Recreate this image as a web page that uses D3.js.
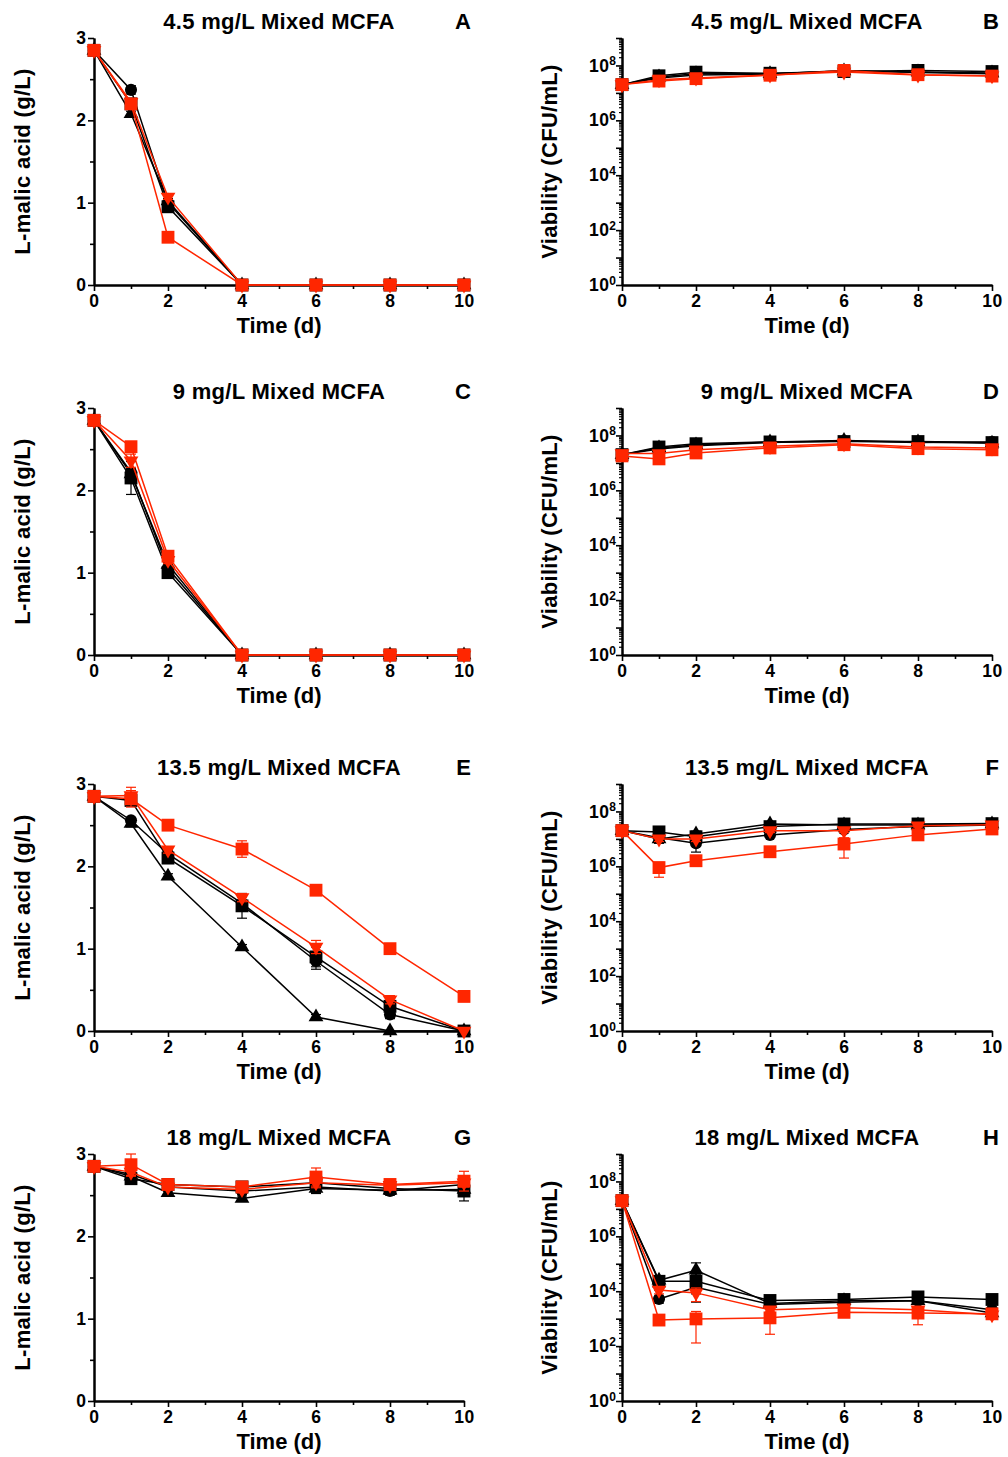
<!DOCTYPE html>
<html>
<head>
<meta charset="utf-8">
<script src="https://cdn.jsdelivr.net/npm/d3@7"></script>
<style>
  body { margin: 0; background: #fff; }
  text { font-family: "Liberation Sans", Arial, Helvetica, sans-serif; font-weight: bold; fill: #000; }
</style>
</head>
<body>
<svg id="chart" width="1008" height="1457"></svg>
<script>
// ---- data -------------------------------------------------------------
const days = [0, 1, 2, 4, 6, 8, 10];
const dayTicks = [0, 2, 4, 6, 8, 10];
const dayMinorTicks = [1, 3, 5, 7, 9];
const malicTicks = [0, 1, 2, 3];
const malicMinorTicks = [0.5, 1.5, 2.5];
const logDecades = [1e0, 1e1, 1e2, 1e3, 1e4, 1e5, 1e6, 1e7, 1e8, 1e9];

const panelTitles = ["4.5 mg/L Mixed MCFA", "9 mg/L Mixed MCFA", "13.5 mg/L Mixed MCFA", "18 mg/L Mixed MCFA"];
const malicLetters = ["A", "C", "E", "G"];
const viabLetters = ["B", "D", "F", "H"];
const xTitle = "Time (d)";
const malicTitle = "L-malic acid (g/L)";
const viabTitle = "Viability (CFU/mL)";

// series order: black circle, black triangle, black square, red inverted triangle, red square
// L-malic acid (g/L)
const malic45 = [
  [2.85, 2.37, 1.00, 0, 0, 0, 0],
  [2.85, 2.08, 1.02, 0, 0, 0, 0],
  [2.85, 2.20, 0.95, 0, 0, 0, 0],
  [2.85, 2.22, 1.07, 0, 0, 0, 0],
  [2.85, 2.20, 0.58, 0, 0, 0, 0]
];
const malic45Err = [
  [0, 0.05, 0.04, 0, 0, 0, 0],
  [0, 0.03, 0.03, 0, 0, 0, 0],
  [0, 0.03, 0.04, 0, 0, 0, 0],
  [0, 0.03, 0.03, 0, 0, 0, 0],
  [0, 0.03, 0.02, 0, 0, 0, 0]
];
const malic9 = [
  [2.85, 2.22, 1.05, 0, 0, 0, 0],
  [2.85, 2.20, 1.10, 0, 0, 0, 0],
  [2.85, 2.15, 1.00, 0, 0, 0, 0],
  [2.85, 2.36, 1.15, 0, 0, 0, 0],
  [2.85, 2.53, 1.20, 0, 0, 0, 0]
];
const malic9Err = [
  [0, 0.05, 0.04, 0, 0, 0, 0],
  [0, 0.05, 0.04, 0, 0, 0, 0],
  [0, 0.20, 0.05, 0, 0, 0, 0],
  [0, 0.08, 0.04, 0, 0, 0, 0],
  [0, 0.03, 0.03, 0, 0, 0, 0]
];
const malic135 = [
  [2.85, 2.56, 2.15, 1.55, 0.85, 0.20, 0],
  [2.85, 2.52, 1.88, 1.02, 0.17, 0.00, 0],
  [2.85, 2.80, 2.10, 1.52, 0.90, 0.30, 0],
  [2.85, 2.86, 2.20, 1.62, 1.02, 0.38, 0],
  [2.85, 2.82, 2.50, 2.21, 1.71, 1.00, 0.42]
];
const malic135Err = [
  [0, 0.03, 0.05, 0.08, 0.10, 0.05, 0],
  [0, 0.04, 0.03, 0.03, 0.03, 0, 0],
  [0, 0.05, 0.05, 0.15, 0.12, 0.06, 0],
  [0, 0.10, 0.04, 0.05, 0.08, 0.05, 0],
  [0, 0.10, 0.03, 0.10, 0.04, 0.03, 0.03]
];
const malic18 = [
  [2.85, 2.75, 2.60, 2.55, 2.60, 2.55, 2.63],
  [2.85, 2.73, 2.53, 2.46, 2.58, 2.56, 2.57],
  [2.85, 2.70, 2.63, 2.60, 2.65, 2.58, 2.55],
  [2.85, 2.78, 2.60, 2.57, 2.65, 2.62, 2.65],
  [2.85, 2.87, 2.63, 2.60, 2.72, 2.63, 2.67]
];
const malic18Err = [
  [0, 0.04, 0.05, 0.04, 0.07, 0.05, 0.05],
  [0, 0.03, 0.03, 0.03, 0.06, 0.04, 0.04],
  [0, 0.05, 0.06, 0.06, 0.05, 0.05, 0.12],
  [0, 0.05, 0.03, 0.04, 0.06, 0.03, 0.05],
  [0, 0.13, 0.06, 0.04, 0.11, 0.04, 0.12]
];

// Viability (CFU/mL)
const viab45 = [
  [2.0e7, 3.5e7, 4.5e7, 4.8e7, 6.5e7, 5.5e7, 5.0e7],
  [2.0e7, 3.8e7, 5.0e7, 5.0e7, 6.3e7, 5.8e7, 5.3e7],
  [2.0e7, 4.2e7, 5.7e7, 5.2e7, 6.0e7, 6.6e7, 6.0e7],
  [2.0e7, 3.0e7, 3.5e7, 4.5e7, 5.8e7, 4.5e7, 4.2e7],
  [2.0e7, 2.7e7, 3.3e7, 4.4e7, 6.6e7, 4.6e7, 4.1e7]
];
const viab45Err = [
  [0, 4e6, 5e6, 5e6, 6e6, 5e6, 5e6],
  [0, 4e6, 5e6, 5e6, 6e6, 5e6, 5e6],
  [0, 4e6, 5e6, 5e6, 6e6, 5e6, 5e6],
  [0, 3e6, 4e6, 4e6, 6e6, 4e6, 4e6],
  [0, 3e6, 4e6, 4e6, 6e6, 4e6, 4e6]
];
const viab9 = [
  [2.0e7, 3.2e7, 4.2e7, 5.5e7, 6.3e7, 5.5e7, 5.8e7],
  [2.0e7, 3.5e7, 4.5e7, 5.8e7, 6.5e7, 5.8e7, 5.2e7],
  [2.0e7, 3.8e7, 5.0e7, 5.8e7, 6.0e7, 6.0e7, 5.5e7],
  [2.2e7, 2.2e7, 3.0e7, 4.0e7, 5.0e7, 3.8e7, 3.5e7],
  [1.8e7, 1.4e7, 2.3e7, 3.5e7, 4.6e7, 3.3e7, 3.0e7]
];
const viab9Err = [
  [0, 4e6, 5e6, 5e6, 6e6, 5e6, 5e6],
  [0, 4e6, 5e6, 5e6, 6e6, 5e6, 5e6],
  [0, 4e6, 5e6, 5e6, 6e6, 5e6, 5e6],
  [3e6, 3e6, 4e6, 4e6, 5e6, 4e6, 4e6],
  [3e6, 2e6, 3e6, 4e6, 5e6, 4e6, 4e6]
];
const viab135 = [
  [2.0e7, 1.1e7, 7.0e6, 1.4e7, 2.2e7, 2.8e7, 3.2e7],
  [2.0e7, 1.0e7, 1.5e7, 3.5e7, 3.2e7, 3.2e7, 3.5e7],
  [2.0e7, 1.8e7, 1.2e7, 2.8e7, 3.5e7, 3.5e7, 3.6e7],
  [2.0e7, 1.0e7, 1.0e7, 2.0e7, 2.0e7, 3.0e7, 3.3e7],
  [2.0e7, 9.0e5, 1.6e6, 3.4e6, 6.5e6, 1.4e7, 2.3e7]
];
const viab135Err = [
  [0, 4.0e6, 3.7e6, 2e6, 5e6, 3e6, 3e6],
  [0, 3.0e6, 4.0e6, 5e6, 3e6, 2e6, 2e6],
  [0, 3.0e6, 2.0e6, 3e6, 3e6, 3e6, 3e6],
  [0, 2.0e6, 2.0e6, 3e6, 3e6, 3e6, 5e6],
  [0, 5.0e5, 3.0e5, 6e5, 4.5e6, 2e6, 3e6]
];
const viab18 = [
  [2.0e7, 5.2e3, 1.4e4, 3.3e3, 4.0e3, 4.5e3, 2.1e3],
  [2.0e7, 2.5e4, 5.8e4, 3.6e3, 4.5e3, 4.5e3, 1.6e3],
  [2.0e7, 2.3e4, 2.3e4, 4.6e3, 5.0e3, 6.2e3, 5.0e3],
  [2.0e7, 1.1e4, 8.7e3, 2.1e3, 2.5e3, 2.1e3, 1.4e3],
  [2.0e7, 8.9e2, 9.8e2, 1.07e3, 1.7e3, 1.6e3, 1.5e3]
];
const viab18Err = [
  [0, 1.5e3, 3.0e3, 5e2, 4e2, 5e2, 3e2],
  [0, 8.0e3, 5.0e4, 4e2, 5e2, 8e2, 3e2],
  [0, 1.2e4, 1.9e4, 8e2, 6e2, 1e3, 6e2],
  [0, 3.0e3, 4.5e3, 5e2, 6e2, 5e2, 2e2],
  [0, 1.0e2, 8.5e2, 8e2, 5e2, 1e3, 3e2]
];

const malicSets = [malic45, malic9, malic135, malic18];
const malicErrSets = [malic45Err, malic9Err, malic135Err, malic18Err];
const viabSets = [viab45, viab9, viab135, viab18];
const viabErrSets = [viab45Err, viab9Err, viab135Err, viab18Err];

// ---- styling ----------------------------------------------------------
const RED = "#ff2600";
const seriesColor = ["#000", "#000", "#000", RED, RED];
const seriesShape = ["circle", "triangle", "square", "triangleDown", "square"];

const layout = { colX: [94, 622], rowY: [38, 408, 784, 1154], w: 370, h: 247 };

const svg = d3.select("#chart");

function symbolPath(shape) {
  if (shape === "circle") return d3.symbol().type(d3.symbolCircle).size(115)();
  if (shape === "square") return d3.symbol().type(d3.symbolSquare).size(165)();
  return d3.symbol().type(d3.symbolTriangle).size(95)();
}

function styleAxis(g, fontSize) {
  g.select(".domain").attr("stroke", "#000").attr("stroke-width", 2);
  g.selectAll(".tick line").attr("stroke", "#000").attr("stroke-width", 1.6);
  g.selectAll(".tick text")
    .attr("font-size", fontSize)
    .attr("font-family", "'Liberation Sans', Arial, sans-serif")
    .attr("font-weight", "bold")
    .attr("fill", "#000");
}

function drawPanel(ox, oy, isLog, values, errors, title, letter, yTitle) {
  const g = svg.append("g").attr("transform", `translate(${ox},${oy})`);
  const x = d3.scaleLinear().domain([0, 10]).range([0, layout.w]);
  const y = isLog
    ? d3.scaleLog().domain([1, 1e9]).range([layout.h, 0])
    : d3.scaleLinear().domain([0, 3]).range([layout.h, 0]);

  // x axis
  const gxMinor = g.append("g").attr("transform", `translate(0,${layout.h})`)
    .call(d3.axisBottom(x).tickValues(dayMinorTicks).tickSize(4).tickSizeOuter(0).tickFormat(""));
  styleAxis(gxMinor, "17px");
  const gx = g.append("g").attr("transform", `translate(0,${layout.h})`)
    .call(d3.axisBottom(x).tickValues(dayTicks).tickSize(6).tickSizeOuter(0).tickPadding(4));
  styleAxis(gx, "17.5px");
  gx.selectAll(".tick text").attr("letter-spacing", "0.6px");

  // y axis
  if (isLog) {
    const minor = [];
    for (let k = 0; k < 9; k++) for (let m = 2; m <= 9; m++) minor.push(m * Math.pow(10, k));
    const gyMinor = g.append("g")
      .call(d3.axisLeft(y).tickValues(minor).tickSize(3).tickSizeOuter(0).tickFormat(""));
    styleAxis(gyMinor, "17px");
    gyMinor.selectAll(".tick line").attr("stroke-width", 1.2);
    const gy = g.append("g")
      .call(d3.axisLeft(y).tickValues(logDecades).tickSize(6).tickSizeOuter(0).tickPadding(0).tickFormat(""));
    styleAxis(gy, "17.5px");
    gy.selectAll(".tick text").each(function (d) {
      const e = Math.round(Math.log10(d));
      const t = d3.select(this);
      if (e % 2 !== 0) return;
      t.append("tspan").attr("letter-spacing", "0.4px").text("10");
      t.append("tspan").attr("dy", "-0.55em").attr("font-size", "12px").text(e);
    });
  } else {
    const gyMinor = g.append("g")
      .call(d3.axisLeft(y).tickValues(malicMinorTicks).tickSize(4).tickSizeOuter(0).tickFormat(""));
    styleAxis(gyMinor, "17px");
    const gy = g.append("g")
      .call(d3.axisLeft(y).tickValues(malicTicks).tickSize(6).tickSizeOuter(0).tickPadding(2).tickFormat(d3.format("d")));
    styleAxis(gy, "17.5px");
  }

  // series: error bars, connecting line, symbols
  const line = d3.line().x(d => x(d[0])).y(d => y(d[1]));
  values.forEach((vals, s) => {
    const col = seriesColor[s];
    const pts = days.map((d, j) => [d, vals[j], errors[s][j]]);
    const sg = g.append("g");

    pts.filter(p => p[2] > 0).forEach(p => {
      const lo = isLog ? Math.max(p[1] - p[2], 1) : Math.max(p[1] - p[2], 0);
      const hi = p[1] + p[2];
      const cx = x(p[0]);
      sg.append("line").attr("x1", cx).attr("x2", cx).attr("y1", y(lo)).attr("y2", y(hi))
        .attr("stroke", col).attr("stroke-width", 1.2);
      [lo, hi].forEach(v => {
        sg.append("line").attr("x1", cx - 5).attr("x2", cx + 5).attr("y1", y(v)).attr("y2", y(v))
          .attr("stroke", col).attr("stroke-width", 1.2);
      });
    });

    sg.append("path").datum(pts).attr("d", line)
      .attr("fill", "none").attr("stroke", col).attr("stroke-width", 1.5);

    const shape = seriesShape[s];
    sg.selectAll("path.mark").data(pts).join("path")
      .attr("class", "mark")
      .attr("d", symbolPath(shape))
      .attr("transform", d => `translate(${x(d[0])},${y(d[1])})` + (shape === "triangleDown" ? " rotate(180)" : ""))
      .attr("fill", col);
  });

  // titles
  g.append("text").attr("x", layout.w / 2).attr("y", -9).attr("text-anchor", "middle")
    .attr("font-size", "22px").attr("letter-spacing", "0.3px").text(title);
  g.append("text").attr("x", layout.w + 7).attr("y", -9).attr("text-anchor", "end")
    .attr("font-size", "22px").text(letter);
  g.append("text").attr("x", layout.w / 2).attr("y", layout.h + 48).attr("text-anchor", "middle")
    .attr("font-size", "22px").text(xTitle);
  const yTitleX = isLog ? -65 : -64;
  g.append("text")
    .attr("transform", `translate(${yTitleX},${layout.h / 2}) rotate(-90)`)
    .attr("text-anchor", "middle").attr("font-size", "22px").attr("letter-spacing", "0.3px").text(yTitle);
}

for (let r = 0; r < 4; r++) {
  drawPanel(layout.colX[0], layout.rowY[r], false, malicSets[r], malicErrSets[r], panelTitles[r], malicLetters[r], malicTitle);
  drawPanel(layout.colX[1], layout.rowY[r], true, viabSets[r], viabErrSets[r], panelTitles[r], viabLetters[r], viabTitle);
}
</script>
</body>
</html>
